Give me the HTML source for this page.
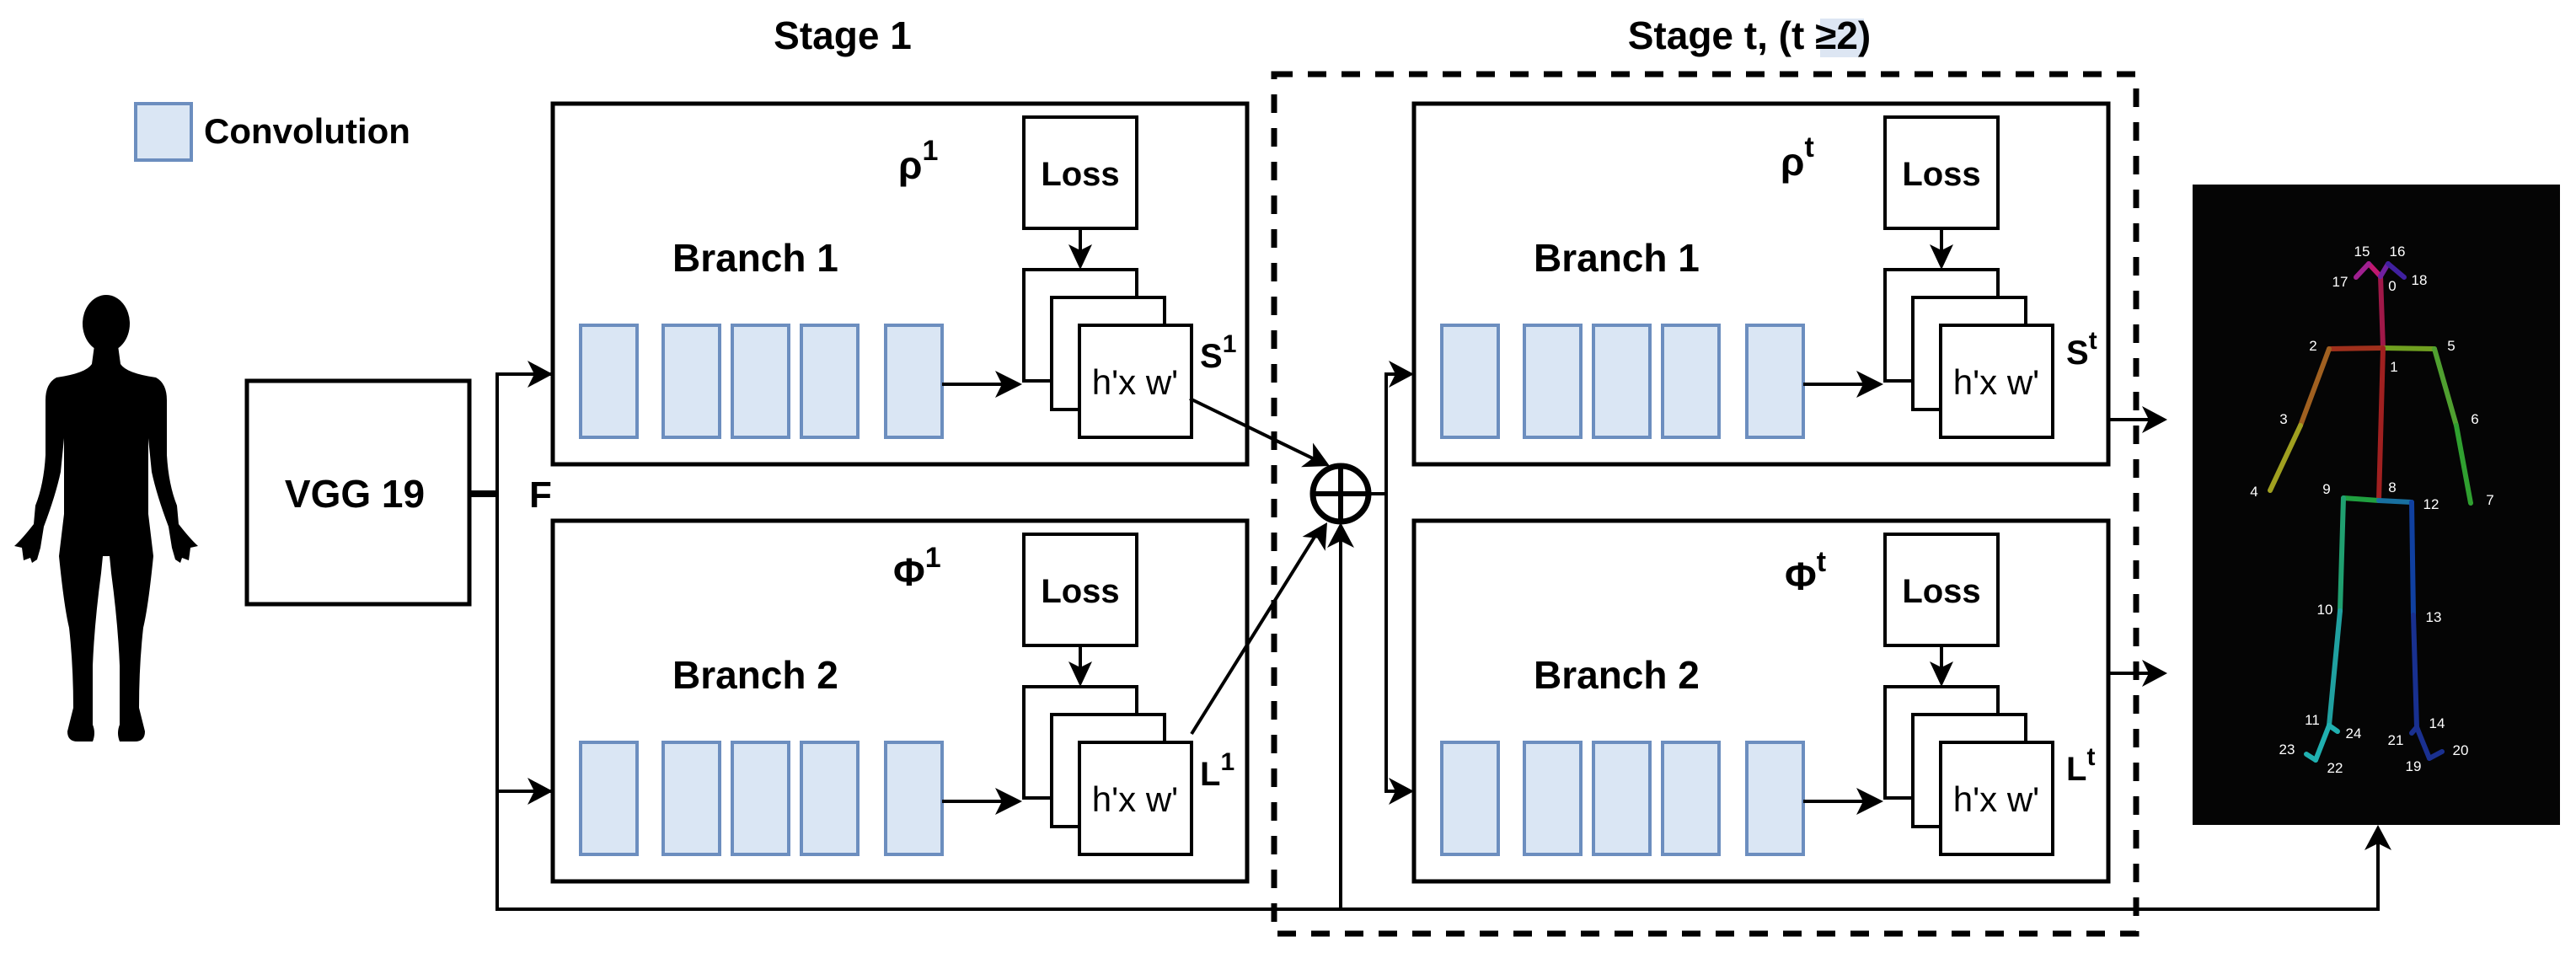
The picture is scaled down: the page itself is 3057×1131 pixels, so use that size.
<!DOCTYPE html>
<html><head><meta charset="utf-8"><style>
html,body{margin:0;padding:0;background:#fff}
svg{display:block}
text{font-family:"Liberation Sans",sans-serif}
</style></head><body>
<svg width="3057" height="1131" viewBox="0 0 3057 1131" xmlns="http://www.w3.org/2000/svg">
<defs>
<g id="arrow"><path d="M0,0 L-30,-16 L-22,0 L-30,16 Z" fill="#000"/></g>
</defs>

<!-- titles -->
<text x="1000" y="58" font-size="46" font-weight="bold" text-anchor="middle">Stage 1</text>
<rect x="2160" y="22" width="52" height="46" fill="#dde6f3"/>
<text x="2076" y="58" font-size="46" font-weight="bold" text-anchor="middle">Stage t, (t ≥2)</text>

<!-- legend -->
<rect x="161" y="123" width="66" height="67" fill="#dae6f4" stroke="#6c8ebf" stroke-width="4"/>
<text x="242" y="170" font-size="42" font-weight="bold">Convolution</text>

<!-- person -->
<g fill="#000">
<ellipse cx="126" cy="384" rx="28" ry="34"/>
<path d="M112,410 L140,410 L143,432 Q150,443 185,448 Q198,455 198,475 L198,540 Q200,575 210,600 L212,622 Q226,640 235,648 L226,650 L224,665 L216,662 L214,668 L208,664 L204,650 L200,625 Q186,588 180,560 L176,520 L176,610 L182,660 Q176,720 170,745 Q165,790 165,840 L172,868 Q172,880 160,880 L142,880 Q138,870 142,860 L142,790 Q140,740 132,680 L130,660 L122,660 L120,680 Q112,740 110,790 L110,860 Q114,870 110,880 L92,880 Q80,880 80,868 L87,840 Q87,790 82,745 Q76,720 70,660 L76,610 L76,520 L72,560 Q66,588 52,625 L48,650 L44,664 L38,668 L36,662 L28,665 L26,650 L17,648 Q26,640 40,622 L42,600 Q52,575 54,540 L54,475 Q54,455 67,448 Q102,443 109,432 Z"/>
</g>

<!-- VGG -->
<rect x="293" y="452" width="264" height="265" fill="#fff" stroke="#000" stroke-width="5"/>
<text x="421" y="602" font-size="46" font-weight="bold" text-anchor="middle">VGG 19</text>
<line x1="557" y1="586" x2="590" y2="586" stroke="#000" stroke-width="8"/>
<text x="628" y="602" font-size="44" font-weight="bold">F</text>

<!-- F distribution lines -->
<g stroke="#000" stroke-width="4" fill="none">
<polyline points="656,444 590,444 590,1079 2822,1079 2822,985"/>
<line x1="590" y1="939" x2="656" y2="939"/>
</g>
<use href="#arrow" transform="translate(656,444)"/>
<use href="#arrow" transform="translate(656,939)"/>
<use href="#arrow" transform="translate(2822,979) rotate(-90)"/>

<!-- dashed stage box -->
<rect x="1512" y="88" width="1023" height="1020" fill="none" stroke="#000" stroke-width="7" stroke-dasharray="22,18"/>

<!-- branch template -->
<g id="br1">
<rect x="656" y="123" width="824" height="428" fill="none" stroke="#000" stroke-width="5"/>
<rect x="689" y="386" width="67" height="133" fill="#dae6f4" stroke="#6c8ebf" stroke-width="4"/>
<rect x="787" y="386" width="67" height="133" fill="#dae6f4" stroke="#6c8ebf" stroke-width="4"/>
<rect x="869" y="386" width="67" height="133" fill="#dae6f4" stroke="#6c8ebf" stroke-width="4"/>
<rect x="951" y="386" width="67" height="133" fill="#dae6f4" stroke="#6c8ebf" stroke-width="4"/>
<rect x="1051" y="386" width="67" height="133" fill="#dae6f4" stroke="#6c8ebf" stroke-width="4"/>
<line x1="1118" y1="456" x2="1190" y2="456" stroke="#000" stroke-width="4"/>
<path d="M1213,456 L1181,440 L1189,456 L1181,472 Z"/>
<rect x="1215" y="139" width="134" height="132" fill="#fff" stroke="#000" stroke-width="4"/>
<line x1="1282" y1="271" x2="1282" y2="305" stroke="#000" stroke-width="4"/>
<path d="M1282,320 L1268,290 L1282,297 L1296,290 Z"/>
<rect x="1215" y="320" width="134" height="132" fill="#fff" stroke="#000" stroke-width="4"/>
<rect x="1248" y="353" width="134" height="133" fill="#fff" stroke="#000" stroke-width="4"/>
<rect x="1281" y="386" width="133" height="133" fill="#fff" stroke="#000" stroke-width="4"/>
<text x="1347" y="468" font-size="42" text-anchor="middle">h'x w'</text>
<text x="1282" y="220" font-size="40" font-weight="bold" text-anchor="middle">Loss</text>
</g>
<g transform="translate(0,495)">
<use href="#br1"/>
</g>
<g transform="translate(1022,0)"><use href="#br1"/></g>
<g transform="translate(1022,495)"><use href="#br1"/></g>

<text x="798" y="322" font-size="46" font-weight="bold">Branch 1</text>
<text x="798" y="817" font-size="46" font-weight="bold">Branch 2</text>
<text x="1820" y="322" font-size="46" font-weight="bold">Branch 1</text>
<text x="1820" y="817" font-size="46" font-weight="bold">Branch 2</text>

<text x="1066" y="212" font-size="46" font-weight="bold">ρ<tspan dy="-22" font-size="34">1</tspan></text>
<text x="1060" y="695" font-size="46" font-weight="bold">Φ<tspan dy="-22" font-size="34">1</tspan></text>
<text x="2113" y="208" font-size="46" font-weight="bold">ρ<tspan dy="-22" font-size="34">t</tspan></text>
<text x="2118" y="700" font-size="46" font-weight="bold">Φ<tspan dy="-22" font-size="34">t</tspan></text>

<text x="1424" y="436" font-size="40" font-weight="bold">S<tspan dy="-18" font-size="30">1</tspan></text>
<text x="1424" y="932" font-size="40" font-weight="bold">L<tspan dy="-18" font-size="30">1</tspan></text>
<text x="2452" y="432" font-size="40" font-weight="bold">S<tspan dy="-18" font-size="30">t</tspan></text>
<text x="2452" y="926" font-size="40" font-weight="bold">L<tspan dy="-18" font-size="30">t</tspan></text>

<!-- oplus -->
<g stroke="#000" fill="none">
<line x1="1412" y1="473" x2="1560" y2="545" stroke-width="4"/>
<line x1="1414" y1="871" x2="1562" y2="634" stroke-width="4"/>
<line x1="1591" y1="1079" x2="1591" y2="640" stroke-width="4"/>
<circle cx="1591" cy="586" r="33" stroke-width="7"/>
<line x1="1558" y1="586" x2="1624" y2="586" stroke-width="6"/>
<line x1="1591" y1="553" x2="1591" y2="619" stroke-width="6"/>
<polyline points="1624,586 1645,586 1645,444 1660,444" stroke-width="4"/>
<polyline points="1645,586 1645,939 1660,939" stroke-width="4"/>
<line x1="2504" y1="498" x2="2550" y2="498" stroke-width="4"/>
<line x1="2504" y1="799" x2="2550" y2="799" stroke-width="4"/>
</g>
<use href="#arrow" transform="translate(1578,553) rotate(26)"/>
<use href="#arrow" transform="translate(1575,620) rotate(-58)"/>
<use href="#arrow" transform="translate(1591,620) rotate(-90)"/>
<use href="#arrow" transform="translate(1678,444)"/>
<use href="#arrow" transform="translate(1678,939)"/>
<use href="#arrow" transform="translate(2572,498)"/>
<use href="#arrow" transform="translate(2572,799)"/>

<!-- skeleton -->
<rect x="2602" y="219" width="436" height="760" fill="#050505"/>
<g stroke-linecap="round" stroke-width="6" fill="none">
<line x1="2825" y1="328" x2="2828" y2="413" stroke="#a01848"/>
<line x1="2828" y1="413" x2="2764" y2="414" stroke="#a0301c"/>
<line x1="2764" y1="414" x2="2730" y2="505" stroke="#a06020"/>
<line x1="2730" y1="505" x2="2694" y2="582" stroke="#a0a020"/>
<line x1="2828" y1="413" x2="2889" y2="414" stroke="#70a020"/>
<line x1="2889" y1="414" x2="2915" y2="505" stroke="#50a030"/>
<line x1="2915" y1="505" x2="2932" y2="597" stroke="#30a030"/>
<line x1="2828" y1="413" x2="2823" y2="594" stroke="#a02020"/>
<line x1="2823" y1="594" x2="2781" y2="591" stroke="#20a040"/>
<line x1="2781" y1="591" x2="2777" y2="725" stroke="#20a070"/>
<line x1="2777" y1="725" x2="2764" y2="861" stroke="#20a0a0"/>
<line x1="2823" y1="594" x2="2862" y2="596" stroke="#1870a0"/>
<line x1="2862" y1="596" x2="2864" y2="730" stroke="#1040a0"/>
<line x1="2864" y1="730" x2="2868" y2="863" stroke="#183090"/>
<line x1="2825" y1="328" x2="2811" y2="313" stroke="#c01870"/>
<line x1="2811" y1="313" x2="2796" y2="329" stroke="#a02090"/>
<line x1="2825" y1="328" x2="2834" y2="313" stroke="#7020a0"/>
<line x1="2834" y1="313" x2="2853" y2="329" stroke="#4020a0"/>
<line x1="2868" y1="863" x2="2883" y2="900" stroke="#1a3090"/>
<line x1="2883" y1="900" x2="2898" y2="892" stroke="#1a3090"/>
<line x1="2868" y1="863" x2="2862" y2="870" stroke="#1a3090"/>
<line x1="2764" y1="861" x2="2748" y2="902" stroke="#20b0b0"/>
<line x1="2748" y1="902" x2="2737" y2="895" stroke="#20b0b0"/>
<line x1="2764" y1="861" x2="2774" y2="868" stroke="#20b0b0"/>
</g>
<g fill="#fff" font-size="17" text-anchor="middle" style="font-family:'DejaVu Sans',sans-serif">
<text x="2803" y="304">15</text><text x="2845" y="304">16</text>
<text x="2777" y="340">17</text><text x="2871" y="338">18</text>
<text x="2839" y="345">0</text><text x="2745" y="416">2</text>
<text x="2909" y="416">5</text><text x="2841" y="441">1</text>
<text x="2710" y="503">3</text><text x="2937" y="503">6</text>
<text x="2675" y="589">4</text><text x="2761" y="586">9</text>
<text x="2839" y="584">8</text><text x="2885" y="604">12</text>
<text x="2955" y="599">7</text><text x="2759" y="729">10</text>
<text x="2888" y="738">13</text><text x="2744" y="860">11</text>
<text x="2793" y="876">24</text><text x="2714" y="895">23</text>
<text x="2771" y="917">22</text><text x="2892" y="864">14</text>
<text x="2843" y="884">21</text><text x="2920" y="896">20</text>
<text x="2864" y="915">19</text>
</g>
</svg>
</body></html>
